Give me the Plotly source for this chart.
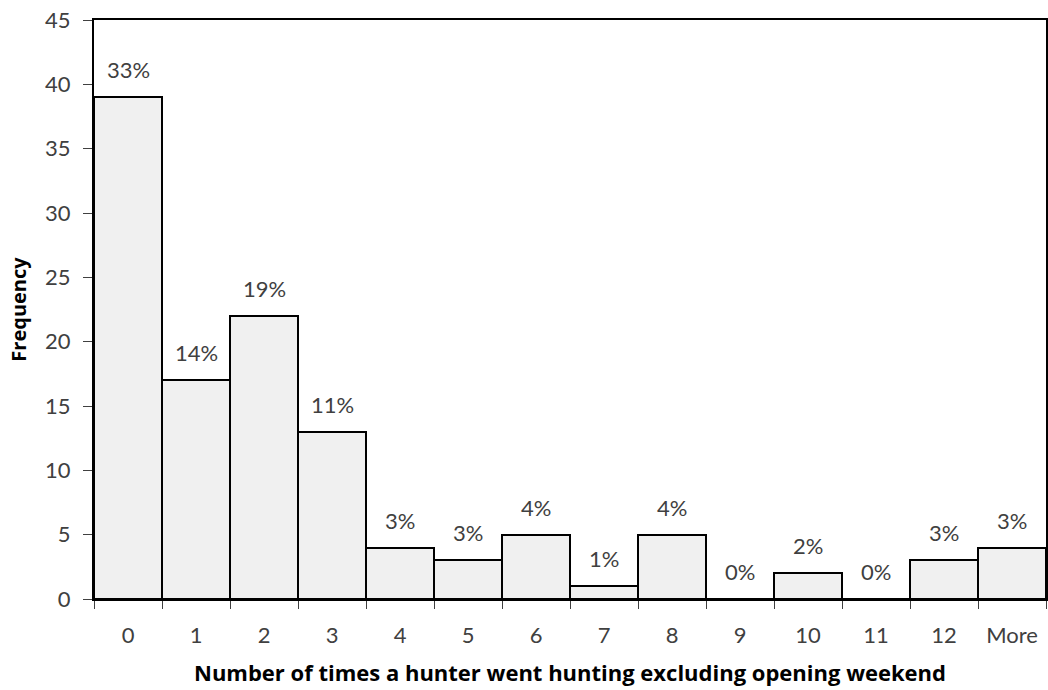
import plotly.graph_objects as go

categories = ["0", "1", "2", "3", "4", "5", "6", "7", "8", "9", "10", "11", "12", "More"]
frequency = [39, 17, 22, 13, 4, 3, 5, 1, 5, 0, 2, 0, 3, 4]
percent_labels = ["33%", "14%", "19%", "11%", "3%", "3%", "4%", "1%", "4%", "0%", "2%", "0%", "3%", "3%"]
y_ticks = [0, 5, 10, 15, 20, 25, 30, 35, 40, 45]

FONT = "Lato, Open Sans, sans-serif"
TFONT = "Open Sans, Lato, sans-serif"
TXT = "#404040"

fig = go.Figure()
fig.add_trace(go.Bar(
    x=categories,
    y=frequency,
    marker=dict(color="#f0f0f0", line=dict(color="black", width=2)),
    width=1,
    hoverinfo="x+y",
))

for c, v, t in zip(categories, frequency, percent_labels):
    fig.add_annotation(x=c, y=v, text=t, showarrow=False, yanchor="bottom",
                       yshift=12, font=dict(family=FONT, size=22, color=TXT))

fig.update_layout(
    width=1048, height=690,
    margin=dict(l=94, r=2, t=20, b=91),
    paper_bgcolor="white", plot_bgcolor="white",
    showlegend=False, bargap=0,
    font=dict(family=FONT, size=22, color=TXT),
)
fig.update_xaxes(
    type="category", tickson="boundaries", ticks="outside", ticklen=8,
    tickcolor=TXT, tickwidth=1, automargin=False,
    showline=True, linecolor="black", linewidth=2, mirror=True,
    showgrid=False, ticklabelstandoff=16, ticklabeloverflow="allow",
    tickfont=dict(family=FONT, size=22, color=TXT),
    title=dict(text="<b>Number of times a hunter went hunting excluding opening weekend</b>",
               font=dict(family=TFONT, size=22, color="black"), standoff=18),
)
fig.update_yaxes(
    range=[0, 45], tickvals=y_ticks, ticks="outside", ticklen=9,
    tickcolor=TXT, tickwidth=1, automargin=False,
    showline=True, linecolor="black", linewidth=2, mirror=True,
    showgrid=False, zeroline=False, ticklabelstandoff=8, ticklabeloverflow="allow",
    tickfont=dict(family=FONT, size=22, color=TXT),
    title=dict(text="<b>Frequency</b>", font=dict(family=TFONT, size=20, color="black"), standoff=13),
)

# remove the browser's default 8px body margin so the figure fills the window
fig.write_html("out.html", config={"displayModeBar": False},
               post_script="document.body.style.margin='0';document.body.style.overflow='hidden';")
